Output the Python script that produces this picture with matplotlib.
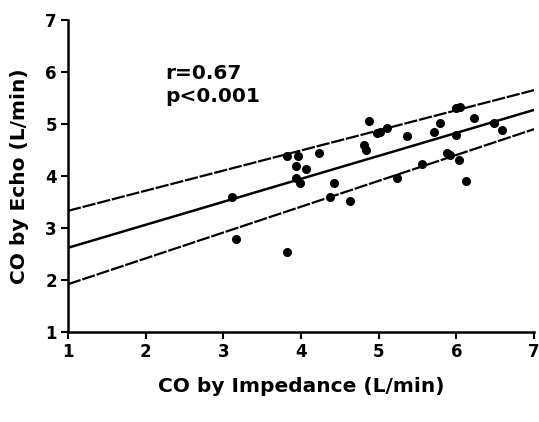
import numpy as np
import matplotlib
matplotlib.use("Agg")
import matplotlib.pyplot as plt

co_impedance = [3.11, 3.16, 3.82, 3.82, 3.96, 4.23, 3.93, 4.07, 3.93, 3.99,
                4.37, 4.63, 4.42, 4.81, 4.83, 4.87, 5.02, 5.11, 4.98, 5.24,
                5.36, 5.56, 5.71, 5.79, 5.88, 5.92, 6.03, 6.12, 6.00, 5.99,
                6.22, 6.48, 6.59, 6.05]
co_echo = [3.60, 2.78, 2.54, 4.38, 4.38, 4.44, 4.19, 4.13, 3.96, 3.87,
           3.59, 3.51, 3.87, 4.60, 4.50, 5.06, 4.85, 4.92, 4.82, 3.97,
           4.77, 4.23, 4.85, 5.01, 4.45, 4.40, 4.31, 3.91, 5.30, 4.79,
           5.11, 5.01, 4.88, 5.32]

# regression line and its band, y at the ends of the x range
line_x = [1, 7]
fit_y = [2.62, 5.27]
upper_y = [3.33, 5.65]
lower_y = [1.92, 4.90]

x_ticks = [1, 2, 3, 4, 5, 6, 7]
y_ticks = [1, 2, 3, 4, 5, 6, 7]

plt.rcParams['font.family'] = 'DejaVu Sans'
plt.rcParams['font.weight'] = 'bold'

fig = plt.figure(figsize=(5.39, 4.22), dpi=100)
ax = fig.add_axes([0.126, 0.213, 0.865, 0.74])

ax.plot(co_impedance, co_echo, 'o', color='black', markersize=5.5)
ax.plot(line_x, fit_y, '-', color='black', linewidth=1.8)
ax.plot(line_x, upper_y, color='black', linewidth=1.6, dashes=(6, 0.8))
ax.plot(line_x, lower_y, color='black', linewidth=1.6, dashes=(6, 0.8))

ax.set_xlim(1, 7)
ax.set_ylim(1, 7)
ax.set_xticks(x_ticks)
ax.set_yticks(y_ticks)
ax.tick_params(direction='out', length=5, width=1.5, labelsize=12, pad=3)
for lab in ax.get_xticklabels() + ax.get_yticklabels():
    lab.set_fontweight('bold')

ax.spines['top'].set_visible(False)
ax.spines['right'].set_visible(False)
ax.spines['left'].set_linewidth(1.8)
ax.spines['bottom'].set_linewidth(1.8)

ax.set_xlabel('CO by Impedance (L/min)', fontsize=14.5, fontweight='bold', labelpad=11)
ax.set_ylabel('CO by Echo (L/min)', fontsize=14.5, fontweight='bold', labelpad=12)

ax.text(2.25, 5.75, 'r=0.67\np<0.001', fontsize=14.5, fontweight='bold',
        va='center', ha='left', linespacing=1.25)

fig.savefig('out.png', dpi=100)
